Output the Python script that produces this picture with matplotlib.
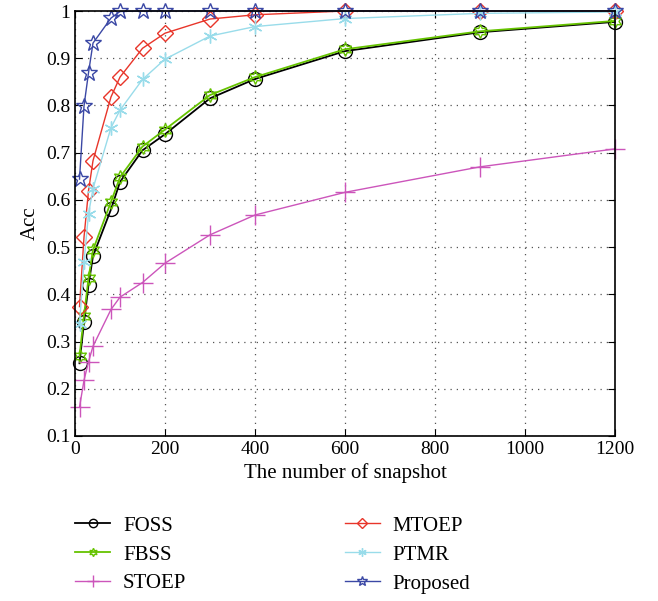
import matplotlib
matplotlib.use("Agg")
import matplotlib.pyplot as plt
from matplotlib.ticker import MultipleLocator

snapshots = [10, 20, 30, 40, 80, 100, 150, 200, 300, 400, 600, 900, 1200]
foss = [0.254, 0.341, 0.420, 0.481, 0.580, 0.638, 0.705, 0.739, 0.815, 0.856, 0.915, 0.955, 0.977]
fbss = [0.269, 0.355, 0.434, 0.494, 0.596, 0.648, 0.713, 0.749, 0.822, 0.860, 0.919, 0.957, 0.979]
stoep = [0.161, 0.218, 0.257, 0.290, 0.368, 0.394, 0.425, 0.466, 0.526, 0.568, 0.616, 0.670, 0.708]
mtoep = [0.374, 0.521, 0.619, 0.683, 0.818, 0.860, 0.921, 0.953, 0.983, 0.992, 1.0, 1.0, 1.0]
ptmr = [0.337, 0.469, 0.570, 0.624, 0.753, 0.790, 0.855, 0.898, 0.947, 0.967, 0.984, 0.995, 0.998]
proposed = [0.644, 0.799, 0.869, 0.932, 0.985, 0.999, 1.0, 1.0, 1.0, 1.0, 1.0, 1.0, 1.0]

plt.rcParams['font.family'] = ['Liberation Serif', 'DejaVu Serif']
plt.rcParams['font.size'] = 14

fig = plt.figure(figsize=(6.58, 6.01), dpi=100)
ax = fig.add_axes([75/658, 1-436/601, 540/658, 425/601])

series = [
    ("FOSS", foss, "black", "o", 10, 1.3),
    ("FBSS", fbss, "#66c300", (6, 1, 0), 10, 1.3),
    ("STOEP", stoep, "#cc55bb", "+", 14, 1.0),
    ("MTOEP", mtoep, "#e8352a", "D", 8, 1.0),
    ("PTMR", ptmr, "#99dcea", (6, 2, 0), 10, 1.0),
    ("Proposed", proposed, "#3b48a5", "*", 12, 1.0),
]
for name, vals, color, marker, ms, lw in series:
    ax.plot(snapshots, vals, color=color, lw=lw, marker=marker, ms=ms,
            markerfacecolor='none', markeredgecolor=color, markeredgewidth=1.0,
            label=name, clip_on=False)

ax.set_xlim(0, 1200)
ax.set_ylim(0.1, 1.0)
ax.xaxis.set_major_locator(MultipleLocator(200))
ax.yaxis.set_major_locator(MultipleLocator(0.1))
ax.set_yticklabels([f"{v:g}" for v in ax.get_yticks()])
ax.tick_params(direction='in', top=True, right=True, length=5, labelsize=14)
ax.grid(True, color='#555555', linestyle=(0, (1, 4)), linewidth=0.9)
for s in ax.spines.values():
    s.set_linewidth(1.2)
ax.set_xlabel("The number of snapshot", fontsize=15, labelpad=4)
ax.set_ylabel("Acc", fontsize=15, labelpad=4)

leg = fig.legend(loc='upper left', bbox_to_anchor=(75/658, 1-516/601), ncol=2,
                 frameon=False, fontsize=15, handlelength=1.68, columnspacing=7.6,
                 labelspacing=0.45, handletextpad=0.62, borderpad=0, borderaxespad=0,
                 markerscale=0.6)
fig.savefig("out.png", dpi=100)
